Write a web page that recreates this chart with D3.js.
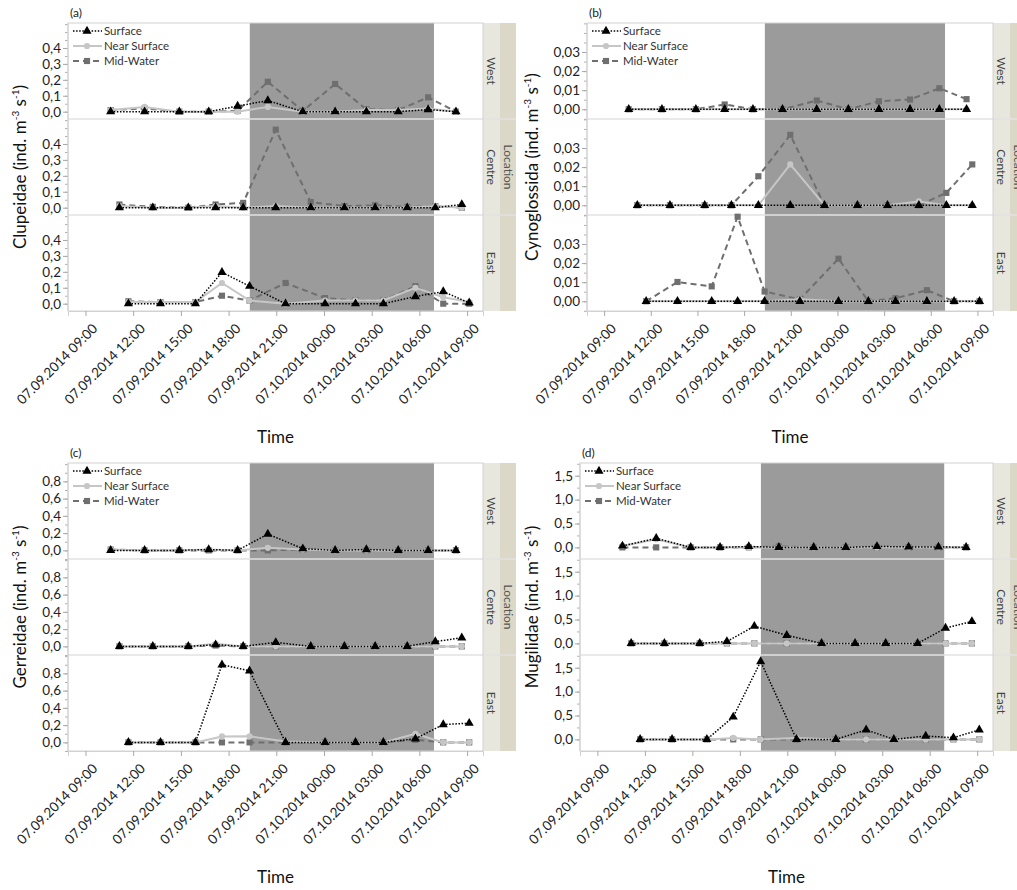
<!DOCTYPE html>
<html>
<head>
<meta charset="utf-8">
<script src="https://cdn.jsdelivr.net/npm/d3@7"></script>
<style>
  body { margin: 0; background: #fff; }
  svg { font-family: Lato, "Open Sans", sans-serif; }
</style>
</head>
<body>
<svg id="chart" width="1017" height="890"></svg>
<script>
// sampling times per location (same for all depths)
const timesWest = ["2014-07-09 10:35", "2014-07-09 12:43", "2014-07-09 14:54", "2014-07-09 16:45", "2014-07-09 18:34", "2014-07-09 20:28", "2014-07-09 22:40", "2014-07-10 00:42", "2014-07-10 02:40", "2014-07-10 04:40", "2014-07-10 06:33", "2014-07-10 08:18"]
const timesCentre = ["2014-07-09 11:08", "2014-07-09 13:14", "2014-07-09 15:28", "2014-07-09 17:11", "2014-07-09 18:55", "2014-07-09 20:58", "2014-07-09 23:10", "2014-07-10 01:17", "2014-07-10 03:13", "2014-07-10 05:14", "2014-07-10 07:00", "2014-07-10 08:40"]
const timesEast = ["2014-07-09 11:42", "2014-07-09 13:43", "2014-07-09 15:55", "2014-07-09 17:35", "2014-07-09 19:19", "2014-07-09 21:35", "2014-07-10 00:04", "2014-07-10 01:59", "2014-07-10 03:44", "2014-07-10 05:45", "2014-07-10 07:30", "2014-07-10 09:08"]

const xDomain = ["2014-07-09 07:54", "2014-07-10 10:00"]
const xTicks = ["2014-07-09 09:00", "2014-07-09 12:00", "2014-07-09 15:00", "2014-07-09 18:00", "2014-07-09 21:00", "2014-07-10 00:00", "2014-07-10 03:00", "2014-07-10 06:00", "2014-07-10 09:00"]
const night = ["2014-07-09 19:20", "2014-07-10 06:55"]

const locations = ["West", "Centre", "East"]
const depths = ["Surface", "Near Surface", "Mid-Water"]

// (a) Clupeidae
const clupWestSurface = [0, 0, 0, 0, 0.035, 0.07, 0, 0, 0, 0, 0.013, 0]
const clupWestNear = [0.01, 0.03, 0, 0, 0, 0.03, 0, 0, 0.01, 0.01, 0.02, 0]
const clupWestMid = [0.01, 0.02, 0, 0, 0.005, 0.188, 0.005, 0.174, 0.015, 0.01, 0.09, 0]
const clupCentreSurface = [0, 0, 0, 0, 0, 0, 0, 0, 0, 0, 0, 0.02]
const clupCentreNear = [0.01, 0, 0, 0.01, 0, 0.01, 0, 0, 0, 0, 0.01, 0]
const clupCentreMid = [0.02, 0.005, 0, 0.02, 0.03, 0.49, 0.035, 0.01, 0.015, 0.005, 0.01, 0]
const clupEastSurface = [0, 0, 0, 0.197, 0.11, 0, 0, 0, 0, 0.045, 0.076, 0.005]
const clupEastNear = [0.01, 0.01, 0.01, 0.13, 0.02, 0, 0.02, 0.02, 0.02, 0.1, 0.04, 0.01]
const clupEastMid = [0.015, 0.01, 0.01, 0.05, 0.02, 0.13, 0.035, 0.02, 0.02, 0.11, 0, 0]

// (b) Cynoglossida
const cynoWestSurface = [0, 0, 0, 0, 0, 0, 0, 0, 0, 0, 0, 0]
const cynoWestNear = [0, 0, 0, 0, 0, 0, 0, 0, 0, 0, 0, 0]
const cynoWestMid = [0, 0, 0, 0.0025, 0, 0, 0.0046, 0, 0.0042, 0.0051, 0.011, 0.0053]
const cynoCentreSurface = [0, 0, 0, 0, 0, 0, 0, 0, 0, 0, 0, 0]
const cynoCentreNear = [0, 0, 0, 0, 0, 0.0214, 0, 0, 0, 0.002, 0, 0]
const cynoCentreMid = [0, 0, 0, 0, 0.0152, 0.0369, 0, 0, 0, 0, 0.0065, 0.0214]
const cynoEastSurface = [0, 0, 0, 0, 0, 0, 0, 0, 0, 0, 0, 0]
const cynoEastNear = [0, 0, 0, 0, 0, 0.001, 0, 0, 0, 0, 0, 0]
const cynoEastMid = [0, 0.0101, 0.0078, 0.0443, 0.0051, 0.001, 0.0223, 0, 0.0016, 0.0058, 0, 0]

// (c) Gerreidae
const gerrWestSurface = [0, 0, 0, 0.01, 0, 0.189, 0.02, 0, 0.01, 0, 0, 0]
const gerrWestNear = [0.01, 0, 0, 0.01, 0, 0.03, 0.01, 0, 0, 0, 0, 0]
const gerrWestMid = [0.01, 0, 0, 0, 0, 0, 0.01, 0, 0, 0, 0, 0]
const gerrCentreSurface = [0, 0, 0, 0.02, 0, 0.046, 0, 0, 0, 0, 0.055, 0.1]
const gerrCentreNear = [0, 0, 0, 0.03, 0, 0, 0, 0, 0, 0, 0, 0]
const gerrCentreMid = [0, 0, 0, 0.01, 0, 0, 0, 0, 0, 0, 0, 0]
const gerrEastSurface = [0, 0, 0, 0.9, 0.83, 0, 0, 0, 0, 0.042, 0.207, 0.222]
const gerrEastNear = [0, 0, 0, 0.069, 0.07, 0.01, 0, 0, 0, 0.1, 0, 0]
const gerrEastMid = [0, 0, 0, 0, 0, 0, 0, 0, 0, 0.03, 0, 0]

// (d) Mugilidae
const mugiWestSurface = [0.03, 0.19, 0, 0, 0.02, 0, 0, 0, 0.02, 0.01, 0.01, 0]
const mugiWestNear = [0.03, 0.17, 0, 0, 0, 0, 0, 0, 0, 0, 0, 0]
const mugiWestMid = [0, 0, 0, 0, 0, 0.02, 0, 0, 0, 0, 0, 0]
const mugiCentreSurface = [0, 0, 0, 0.04, 0.36, 0.17, 0, 0, 0, 0, 0.32, 0.46]
const mugiCentreNear = [0, 0, 0, 0, 0, 0, 0, 0, 0, 0, 0, 0]
const mugiCentreMid = [0, 0, 0, 0, 0, 0, 0, 0, 0, 0, 0, 0]
const mugiEastSurface = [0, 0, 0, 0.47, 1.63, 0, 0, 0.2, 0, 0.07, 0.035, 0.2]
const mugiEastNear = [0, 0, 0, 0.03, 0, 0.03, 0, 0, 0, 0, 0, 0]
const mugiEastMid = [0, 0, 0, 0, 0, 0, 0, 0, 0, 0, 0, 0]

const ticksA = [0, 0.1, 0.2, 0.3, 0.4]
const ticksB = [0, 0.01, 0.02, 0.03]
const ticksC = [0, 0.2, 0.4, 0.6, 0.8]
const ticksD = [0, 0.5, 1, 1.5]

const parseTime = d3.timeParse("%Y-%m-%d %H:%M")
const formatTick = d3.timeFormat("%m.%d.%Y %H:%M")
const locale = d3.formatLocale({decimal: ",", thousands: ".", grouping: [3], currency: ["", ""]})

const times = [timesWest, timesCentre, timesEast].map(a => a.map(parseTime))

const plotH = 288
const facetH = plotH / 3
const stripW = 17
const locW = 16

const styles = {
  "Surface": {stroke: "#000", width: 1.5, dash: "1.5,1.6", fill: "#000", shape: d3.symbolTriangle, size: 36},
  "Near Surface": {stroke: "#c6c6c6", width: 2, dash: null, fill: "#c6c6c6", shape: d3.symbolCircle, size: 30},
  "Mid-Water": {stroke: "#6f6f6f", width: 2, dash: "6,4", fill: "#6f6f6f", shape: d3.symbolSquare, size: 38}
}

const panels = [
  {tag: "(a)", name: "Clupeidae", left: 68, top: 23, width: 415, titleX: 26, yDomain: [-0.046, 0.557], ticks: ticksA, minor: 0.05, digits: 1,
   series: [[clupWestSurface, clupWestNear, clupWestMid], [clupCentreSurface, clupCentreNear, clupCentreMid], [clupEastSurface, clupEastNear, clupEastMid]]},
  {tag: "(b)", name: "Cynoglossida", left: 587, top: 23, width: 406, titleX: 538, yDomain: [-0.0051, 0.0452], ticks: ticksB, minor: 0.005, digits: 2,
   series: [[cynoWestSurface, cynoWestNear, cynoWestMid], [cynoCentreSurface, cynoCentreNear, cynoCentreMid], [cynoEastSurface, cynoEastNear, cynoEastMid]]},
  {tag: "(c)", name: "Gerreidae", left: 68, top: 463, width: 415, titleX: 26, yDomain: [-0.1, 1.013], ticks: ticksC, minor: 0.1, digits: 1,
   series: [[gerrWestSurface, gerrWestNear, gerrWestMid], [gerrCentreSurface, gerrCentreNear, gerrCentreMid], [gerrEastSurface, gerrEastNear, gerrEastMid]]},
  {tag: "(d)", name: "Mugilidae", left: 580, top: 463, width: 413, titleX: 538, yDomain: [-0.243, 1.766], ticks: ticksD, minor: 0.25, digits: 1,
   series: [[mugiWestSurface, mugiWestNear, mugiWestMid], [mugiCentreSurface, mugiCentreNear, mugiCentreMid], [mugiEastSurface, mugiEastNear, mugiEastMid]]}
]

const svg = d3.select("#chart")

function drawPanel(p) {
  const g = svg.append("g").attr("transform", `translate(${p.left},${p.top})`)
  const x = d3.scaleTime().domain(xDomain.map(parseTime)).range([0, p.width])
  const fmt = locale.format(`.${p.digits}f`)

  // night shading
  g.append("rect")
    .attr("x", x(parseTime(night[0])))
    .attr("y", 0)
    .attr("width", x(parseTime(night[1])) - x(parseTime(night[0])))
    .attr("height", plotH)
    .attr("fill", "#9b9b9b")

  // strips (the right-hand ones run off the page like in the original)
  const strips = g.append("g").attr("transform", `translate(${p.width},0)`)
  strips.append("rect").attr("x", stripW).attr("width", locW).attr("height", plotH).attr("fill", "#dbd8c7")
  strips.append("text")
    .attr("transform", `translate(${stripW + locW / 2},${plotH / 2}) rotate(90)`)
    .attr("text-anchor", "middle").attr("dy", "0.35em")
    .attr("font-size", 12).attr("fill", "#555")
    .text("Location")

  locations.forEach((loc, i) => {
    const y0 = facetH * i
    const y = d3.scaleLinear().domain(p.yDomain).range([y0 + facetH, y0])

    strips.append("rect").attr("y", y0).attr("width", stripW).attr("height", facetH).attr("fill", "#e7e7de")
    strips.append("text")
      .attr("transform", `translate(${stripW / 2},${y0 + facetH / 2}) rotate(90)`)
      .attr("text-anchor", "middle").attr("dy", "0.35em")
      .attr("font-size", 12).attr("fill", "#444")
      .text(loc)

    if (i > 0) {
      g.append("line")
        .attr("x1", 0).attr("x2", p.width + stripW + locW)
        .attr("y1", y0).attr("y2", y0)
        .attr("stroke", "#e2e2e2").attr("stroke-width", 1.5)
    }

    // y axis, minor then major
    const minorTicks = d3.range(Math.ceil(p.yDomain[0] / p.minor) * p.minor, p.yDomain[1], p.minor)
    const minorAxis = g.append("g").call(d3.axisLeft(y).tickValues(minorTicks).tickSize(3).tickFormat(""))
    minorAxis.select(".domain").remove()
    minorAxis.selectAll(".tick line").attr("stroke", "#b0b0b0")

    const yAxis = g.append("g").call(d3.axisLeft(y).tickValues(p.ticks).tickSize(5).tickFormat(fmt))
    yAxis.select(".domain").attr("stroke", "#cfcfcf").attr("d", `M0,${y0 + 0.5}V${y0 + facetH}`)
    yAxis.selectAll(".tick line").attr("stroke", "#a8a8a8")
    yAxis.selectAll(".tick text")
      .attr("font-family", "Lato, sans-serif").attr("font-size", 13.5).attr("fill", "#222").attr("x", -7)

    const line = d3.line().x(d => x(d.t)).y(d => y(d.v))

    // mid-water first, surface on top
    ;[2, 1, 0].forEach(k => {
      const st = styles[depths[k]]
      const pts = p.series[i][k].map((v, j) => ({t: times[i][j], v: v}))
      g.append("path")
        .datum(pts)
        .attr("d", line)
        .attr("fill", "none")
        .attr("stroke", st.stroke)
        .attr("stroke-width", st.width)
        .attr("stroke-dasharray", st.dash)
      g.append("g").selectAll("path")
        .data(pts)
        .join("path")
        .attr("transform", d => `translate(${x(d.t)},${y(d.v)})`)
        .attr("d", d3.symbol(st.shape, st.size))
        .attr("fill", st.fill)
    })
  })

  // frame
  g.append("rect")
    .attr("width", p.width).attr("height", plotH)
    .attr("fill", "none").attr("stroke", "#d2d2d2")

  // x axis
  const xAxis = g.append("g")
    .attr("transform", `translate(0,${plotH})`)
    .call(d3.axisBottom(x).tickValues(xTicks.map(parseTime)).tickSize(5).tickFormat(formatTick))
  xAxis.select(".domain").attr("stroke", "#d2d2d2")
  xAxis.selectAll(".tick line").attr("stroke", "#a8a8a8")
  xAxis.selectAll(".tick text")
    .attr("font-family", "Lato, sans-serif").attr("font-size", 13.5).attr("fill", "#222")
    .attr("text-anchor", "end")
    .attr("transform", "translate(9,15) rotate(-45)")
    .attr("y", 0).attr("dy", "0.35em")

  // legend
  const legend = g.append("g").attr("transform", "translate(5,8)")
  depths.forEach((dep, k) => {
    const st = styles[dep]
    const row = legend.append("g").attr("transform", `translate(0,${k * 15})`)
    row.append("line").attr("x1", 0).attr("x2", 29)
      .attr("stroke", st.stroke).attr("stroke-width", st.width).attr("stroke-dasharray", st.dash)
    row.append("path").attr("transform", "translate(14,0)").attr("d", d3.symbol(st.shape, st.size)).attr("fill", st.fill)
    row.append("text").attr("x", 31).attr("dy", "0.35em").attr("font-size", 11.5).attr("fill", "#333").text(dep)
  })

  // panel tag
  g.append("text").attr("x", 2).attr("y", -6).attr("font-size", 12).attr("fill", "#222").text(p.tag)

  // axis titles
  const title = svg.append("text")
    .attr("transform", `translate(${p.titleX},${p.top + plotH / 2}) rotate(-90)`)
    .attr("text-anchor", "middle").attr("font-size", 17).attr("fill", "#111")
  title.append("tspan").text(`${p.name} (ind. m`)
  title.append("tspan").attr("dy", -7).attr("font-size", 10).text("-3")
  title.append("tspan").attr("dy", 7).text(" s")
  title.append("tspan").attr("dy", -7).attr("font-size", 10).text("-1")
  title.append("tspan").attr("dy", 7).text(")")

  svg.append("text")
    .attr("x", p.left + p.width / 2).attr("y", p.top + plotH + 132)
    .attr("text-anchor", "middle").attr("font-size", 17).attr("fill", "#111")
    .text("Time")
}

panels.forEach(drawPanel)
</script>
</body>
</html>
